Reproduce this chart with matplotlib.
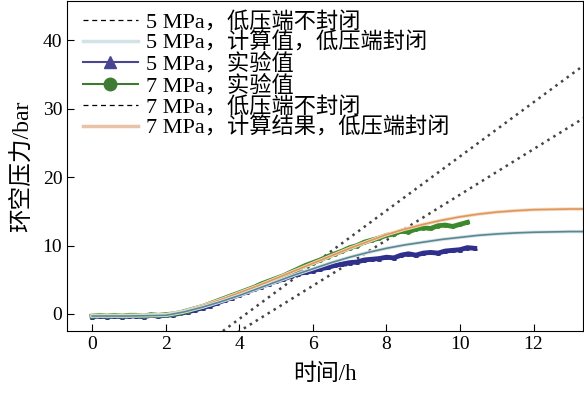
import numpy as np
import matplotlib
matplotlib.use('Agg')
import matplotlib.pyplot as plt
from matplotlib.lines import Line2D

plt.rcParams['font.family'] = ['Liberation Serif', 'Noto Sans CJK SC']
plt.rcParams['axes.unicode_minus'] = False

# experimental data, 5 MPa
t5 = [0, 0.2, 0.4, 0.6, 0.8, 1.0, 1.2, 1.4, 1.6, 1.8, 2.0, 2.2, 2.4, 2.6, 2.8, 3.0,
      3.2, 3.4, 3.6, 3.8, 4.0, 4.2, 4.4, 4.6, 4.8, 5.0, 5.2, 5.4, 5.6, 5.8, 6.0,
      6.2, 6.4, 6.6, 6.8, 7.0, 7.2, 7.4, 7.6, 7.8, 8.0, 8.2, 8.4, 8.6, 8.8, 9.0,
      9.2, 9.4, 9.6, 9.8, 10.0, 10.2, 10.4]
p5 = [-0.4, -0.3, -0.4, -0.3, -0.4, -0.3, -0.3, -0.4, -0.2, -0.3, -0.2, -0.1, 0.1, 0.3, 0.6, 0.9,
      1.2, 1.6, 2.0, 2.4, 2.8, 3.2, 3.6, 4.0, 4.4, 4.8, 5.1, 5.5, 5.9, 6.1, 6.3,
      6.6, 6.8, 7.1, 7.3, 7.5, 7.6, 7.9, 8.0, 8.1, 8.3, 8.2, 8.6, 8.8, 8.6, 8.9,
      9.0, 8.9, 9.2, 9.3, 9.4, 9.7, 9.6]

# experimental data, 7 MPa
t7 = [0, 0.2, 0.4, 0.6, 0.8, 1.0, 1.2, 1.4, 1.6, 1.8, 2.0, 2.2, 2.4, 2.6, 2.8, 3.0,
      3.2, 3.4, 3.6, 3.8, 4.0, 4.2, 4.4, 4.6, 4.8, 5.0, 5.2, 5.4, 5.6, 5.8, 6.0,
      6.2, 6.4, 6.6, 6.8, 7.0, 7.2, 7.4, 7.6, 7.8, 8.0, 8.2, 8.4, 8.6, 8.8, 9.0,
      9.2, 9.4, 9.6, 9.8, 10.0, 10.2]
p7 = [-0.3, -0.2, -0.3, -0.2, -0.3, -0.2, -0.2, -0.3, -0.1, -0.2, -0.1, 0.0, 0.2, 0.5, 0.8, 1.1,
      1.5, 1.9, 2.3, 2.7, 3.1, 3.5, 3.9, 4.4, 4.8, 5.2, 5.6, 6.1, 6.6, 7.1, 7.5,
      7.9, 8.4, 8.8, 9.2, 9.7, 10.0, 10.5, 10.8, 11.1, 11.5, 11.7, 12.1, 12.0, 12.4, 12.6,
      12.5, 12.9, 13.0, 12.8, 13.1, 13.4]

# calculated curves (sealed low-pressure end)
tc = [0, 1, 2, 2.5, 3, 3.5, 4, 4.5, 5, 5.5, 6, 6.5, 7, 7.5, 8, 8.5, 9, 9.5,
      10, 10.5, 11, 11.5, 12, 12.5, 13, 13.4]
c7 = [-0.2, -0.2, -0.1, 0.4, 1.2, 2.1, 3.1, 4.1, 5.2, 6.3, 7.4, 8.5, 9.6, 10.6, 11.6, 12.4, 13.1, 13.7,
      14.2, 14.6, 14.9, 15.1, 15.25, 15.3, 15.35, 15.35]
c5 = [-0.3, -0.3, -0.2, 0.3, 1.0, 1.8, 2.7, 3.7, 4.7, 5.7, 6.6, 7.5, 8.3, 9.0, 9.6, 10.1, 10.5, 10.9,
      11.2, 11.5, 11.7, 11.85, 11.95, 12.0, 12.05, 12.05]

# unsealed low-pressure end (straight lines)
tu5 = [3.8, 13.5]
u5 = [-3.2, 29.1]
tu7 = [3.4, 13.5]
u7 = [-3.1, 36.9]

labels = ['5 MPa，低压端不封闭', '5 MPa，计算值，低压端封闭', '5 MPa，实验值',
          '7 MPa，实验值', '7 MPa，低压端不封闭', '7 MPa，计算结果，低压端封闭']

fig = plt.figure(figsize=(5.84, 3.96), dpi=100)
ax = fig.add_axes([0.115, 0.164, 0.883, 0.834])

ax.plot(tu5, u5, color='#444444', ls=(0, (1, 1.8)), lw=1.8)
ax.plot(tu7, u7, color='#444444', ls=(0, (1, 1.8)), lw=1.8)

ax.plot(t5, p5, color='#2f2f8c', lw=3.5, marker='^', ms=2.5)
ax.plot(t7, p7, color='#3d8a2c', lw=3.5, marker='o', ms=2.5)

ax.plot(tc, c7, color='#f5dcc0', lw=2.5)
ax.plot(tc, c7, color='#e0955c', lw=1.2)
ax.plot(tc, c5, color='#d6e5e8', lw=2.5)
ax.plot(tc, c5, color='#5b8791', lw=1.2)

handles = [
    Line2D([], [], color='black', ls=(0, (4, 3)), lw=0.9),
    Line2D([], [], color='#d3e2e6', lw=2.5),
    Line2D([], [], color='#4a4590', lw=1.5, marker='^', ms=8),
    Line2D([], [], color='#3f7a35', lw=1.5, marker='o', ms=9),
    Line2D([], [], color='black', ls=(0, (4, 3)), lw=0.9),
    Line2D([], [], color='#e9c2a8', lw=2.5),
]
ax.legend(handles, labels, loc='upper left', bbox_to_anchor=(0.0, 1.015), frameon=False,
          fontsize=16, handlelength=2.5, handletextpad=0.35, labelspacing=0.0,
          borderaxespad=0.3)

ax.set_xlim(-0.68, 13.34)
ax.set_ylim(-2.5, 45.8)
ax.set_xticks([0, 2, 4, 6, 8, 10, 12])
ax.set_yticks([0, 10, 20, 30, 40])
ax.tick_params(direction='in', length=5, labelsize=14, top=False, right=False)
ax.set_xlabel('时间/h', fontsize=16.5, labelpad=8)
ax.set_ylabel('环空压力/bar', fontsize=17, labelpad=7)

fig.savefig('out.png', dpi=100)
